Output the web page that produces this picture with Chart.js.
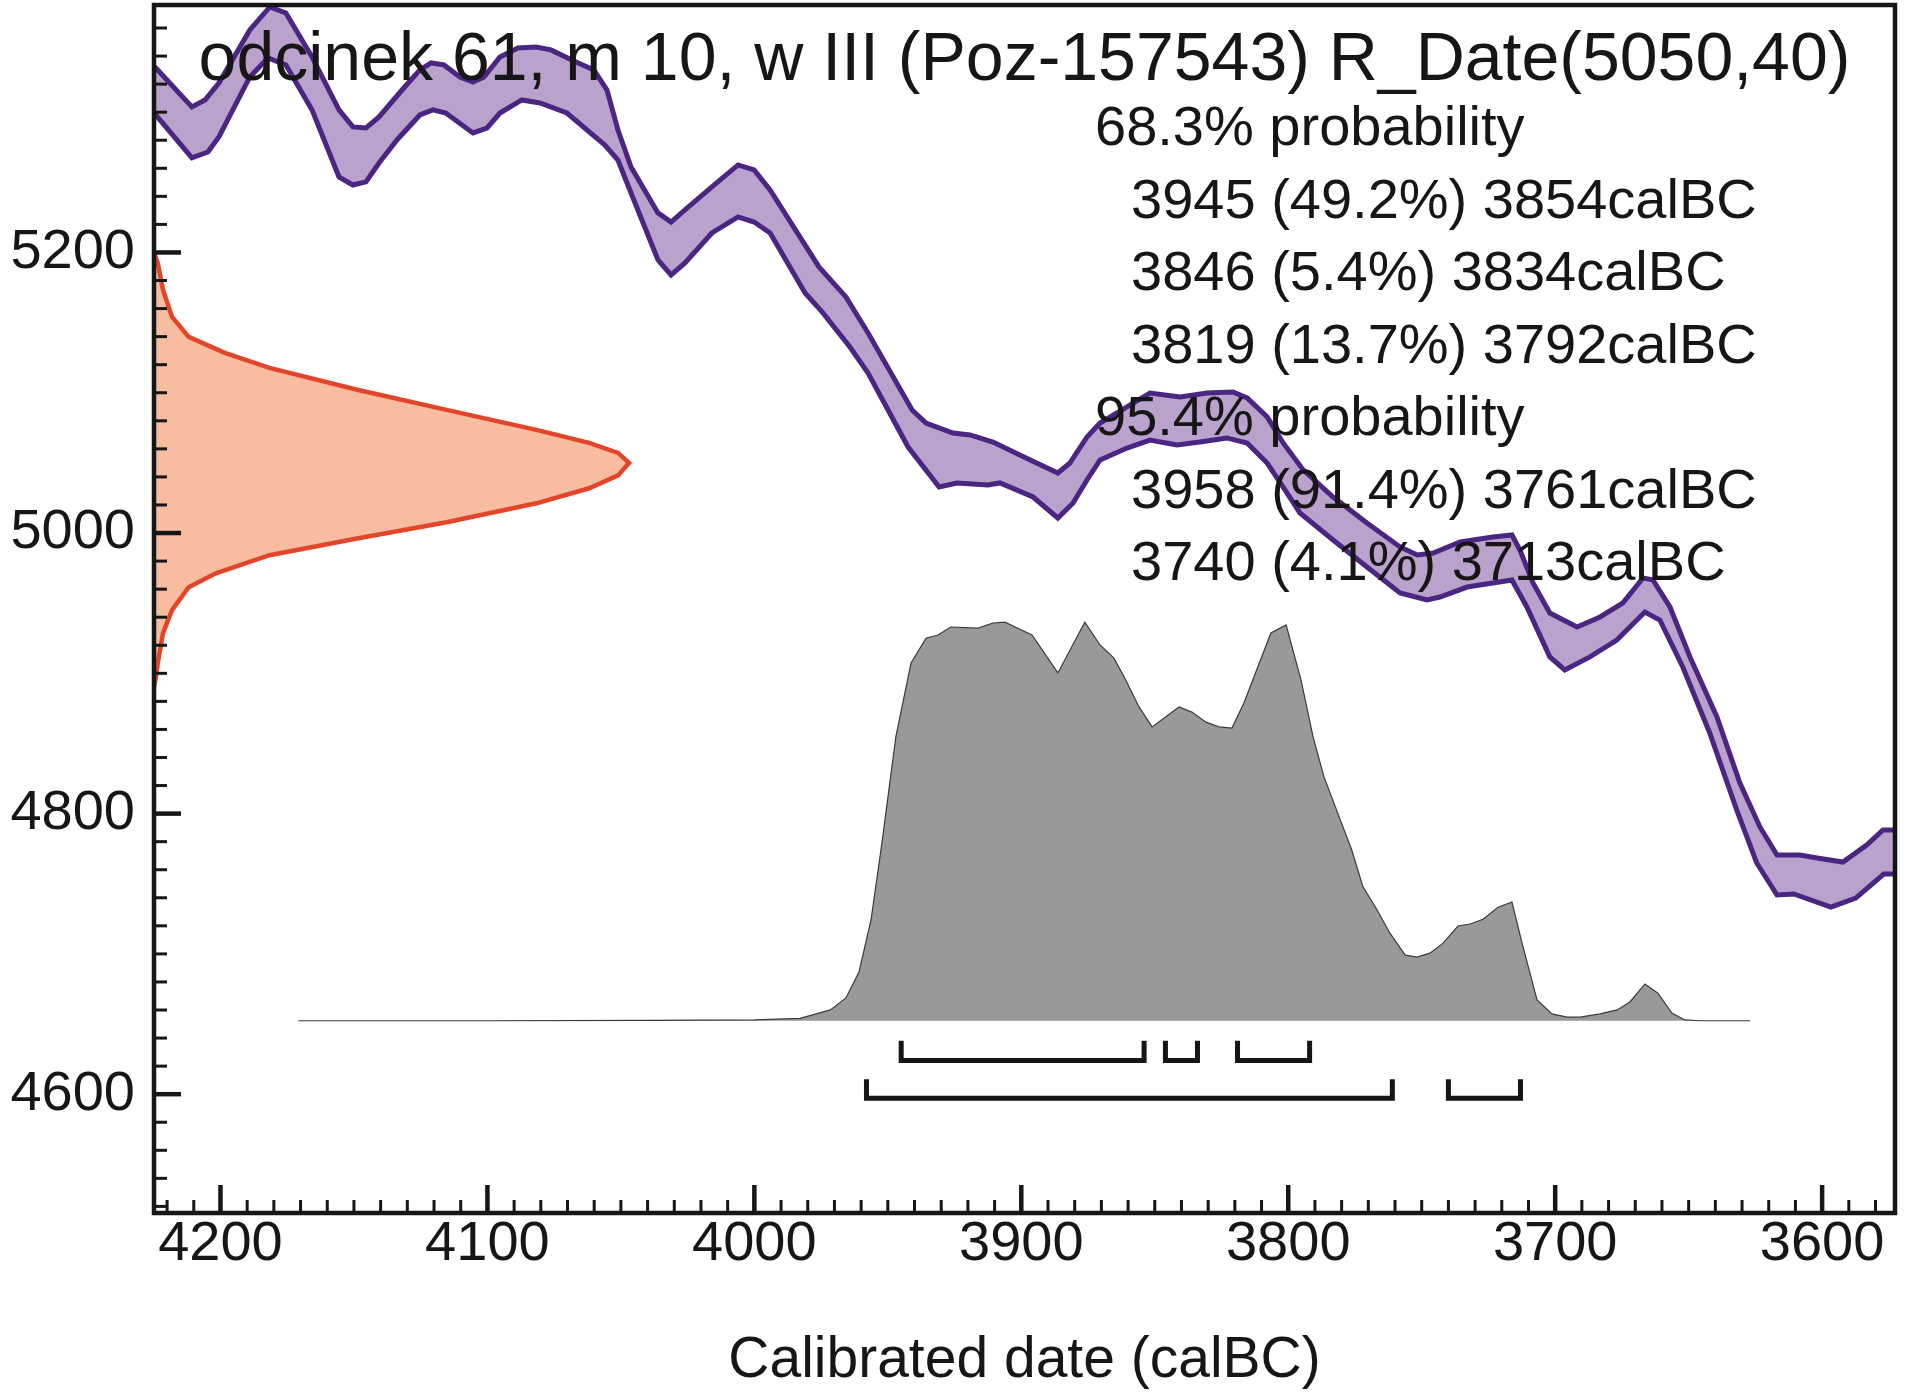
<!DOCTYPE html>
<html>
<head>
<meta charset="utf-8">
<title>R_Date(5050,40)</title>
<script src="https://cdn.jsdelivr.net/npm/chart.js@4.4.1/dist/chart.umd.min.js"></script>
<style>
  html, body { margin: 0; padding: 0; background: #fff; }
  canvas { display: block; }
</style>
</head>
<body>
<canvas id="calChart" width="1910" height="1393"></canvas>
<script>
// --- data ---
const titleText = "odcinek 61, m 10, w III (Poz-157543) R_Date(5050,40)";
const xAxisTitle = "Calibrated date (calBC)";

const xRange = [3572.7, 4224.9];   // calBC (axis runs right to left)
const yRange = [4515.3, 5376.4];   // radiocarbon BP
const xTickValues = [4200, 4100, 4000, 3900, 3800, 3700, 3600];
const yTickValues = [4600, 4800, 5000, 5200];

// calibration curve, upper and lower edge: [calBC, BP]
const calUpper = [
  [4227, 5337], [4224.2, 5331.5], [4210.7, 5303.7], [4205.8, 5308.7], [4200.6, 5320.8],
  [4189.0, 5358.6], [4181.5, 5375.0], [4175.5, 5370.7], [4165.7, 5339.4], [4155.6, 5301.6],
  [4150.4, 5289.5], [4145.5, 5288.7], [4140.6, 5296.6], [4132.0, 5315.8], [4125.3, 5330.1],
  [4121.1, 5335.1], [4116.3, 5333.7], [4110.3, 5325.1], [4105.4, 5321.5], [4101.3, 5325.1],
  [4095.3, 5339.4], [4088.6, 5345.8], [4081.8, 5346.5], [4076.2, 5344.4], [4066.8, 5335.8],
  [4060.1, 5330.1], [4055.2, 5315.8], [4051.1, 5287.3], [4046.2, 5260.9], [4036.1, 5228.2],
  [4031.2, 5221.7], [4026.0, 5230.3], [4015.9, 5246.7], [4006.1, 5262.4], [4000.1, 5258.8],
  [3994.1, 5244.6], [3975.8, 5189.7], [3965.7, 5168.3], [3957.4, 5142.6], [3940.9, 5087.7],
  [3935.7, 5078.4], [3925.6, 5071.3], [3919.2, 5069.9], [3910.6, 5064.9], [3899.0, 5054.2],
  [3886.3, 5042.8], [3881.8, 5049.9], [3875.4, 5068.5], [3870.5, 5078.4], [3860.4, 5089.9],
  [3851.8, 5099.8], [3840.5, 5097.0], [3830.4, 5099.8], [3820.7, 5100.6], [3815.4, 5096.3],
  [3807.9, 5082.8], [3801.9, 5064.2], [3794.4, 5045.0], [3783.2, 5025.7], [3770.5, 5007.2],
  [3758.1, 4990.1], [3751.7, 4984.4], [3745.7, 4985.8], [3735.6, 4993.6], [3723.3, 4997.2],
  [3716.2, 4998.6], [3713.2, 4987.9], [3708.3, 4964.4], [3702.0, 4943.0], [3691.8, 4933.0],
  [3683.2, 4940.2], [3674.6, 4950.2], [3667.1, 4968.0], [3663.4, 4966.6], [3657.0, 4947.3],
  [3649.5, 4911.7], [3639.4, 4868.9], [3630.8, 4821.8], [3623.3, 4790.5], [3616.9, 4770.5],
  [3608.3, 4770.5], [3601.9, 4768.4], [3592.2, 4765.5], [3583.2, 4777.7], [3577.2, 4788.4],
  [3572, 4788.4]
];
const calLower = [
  [4227, 5304], [4224.2, 5298.0], [4210.7, 5267.4], [4204.7, 5271.6], [4200.6, 5282.3],
  [4189.0, 5325.1], [4182.2, 5338.6], [4175.5, 5333.7], [4165.7, 5301.6], [4155.6, 5253.8],
  [4150.4, 5248.1], [4145.5, 5250.3], [4140.6, 5263.8], [4133.9, 5280.2], [4125.3, 5298.0],
  [4120.4, 5301.6], [4115.6, 5299.4], [4105.4, 5285.2], [4100.2, 5288.7], [4095.3, 5299.4],
  [4087.1, 5308.7], [4080.3, 5306.6], [4070.2, 5299.4], [4056.0, 5276.6], [4051.1, 5265.9],
  [4046.2, 5242.4], [4036.1, 5194.7], [4031.2, 5184.0], [4026.0, 5192.5], [4015.9, 5213.9],
  [4006.1, 5225.3], [4000.1, 5221.7], [3994.1, 5213.9], [3981.0, 5171.1], [3974.3, 5156.9],
  [3964.2, 5132.6], [3957.4, 5114.1], [3942.4, 5061.3], [3930.8, 5032.8], [3924.1, 5035.7],
  [3912.5, 5034.2], [3908.0, 5035.7], [3895.6, 5025.7], [3886.3, 5010.7], [3880.6, 5021.4],
  [3875.4, 5037.8], [3870.5, 5052.1], [3860.4, 5060.6], [3851.8, 5066.3], [3841.7, 5062.8],
  [3833.1, 5064.9], [3823.0, 5067.8], [3815.4, 5064.2], [3807.9, 5049.9], [3801.9, 5032.8],
  [3795.6, 5014.3], [3783.2, 4995.0], [3770.5, 4975.8], [3758.1, 4957.3], [3748.0, 4952.3],
  [3743.2, 4954.4], [3733.0, 4961.5], [3716.2, 4966.5], [3710.6, 4947.3], [3702.0, 4911.7],
  [3696.4, 4902.4], [3687.0, 4911.7], [3676.9, 4923.7], [3666.4, 4943.7], [3660.8, 4938.0],
  [3652.2, 4904.5], [3642.1, 4857.5], [3632.0, 4802.6], [3624.5, 4764.8], [3616.9, 4742.0],
  [3610.6, 4742.7], [3596.7, 4733.4], [3587.4, 4739.8], [3576.9, 4756.9], [3572, 4757.0]
];

// measured date on the BP axis: [BP, relative density]
const dateDensity = [
  [5200, 0], [5192.5, 0.008], [5173.3, 0.019], [5154.0, 0.038], [5139.8, 0.073],
  [5128.4, 0.149], [5117.7, 0.243], [5102.0, 0.430], [5087.8, 0.616], [5073.5, 0.805],
  [5064.3, 0.916], [5057.1, 0.977], [5050.0, 1.000], [5041.1, 0.977], [5031.9, 0.916],
  [5021.2, 0.805], [5007.7, 0.616], [4996.3, 0.430], [4984.2, 0.243], [4971.3, 0.130],
  [4961.4, 0.073], [4945.0, 0.038], [4928.6, 0.019], [4907.2, 0.008], [4897.3, 0.004],
  [4890, 0]
];

// calibrated distribution: [calBC, relative density]
const calDensity = [
  [4170.8, 0], [4100, 0], [4040, 0.001], [4000, 0.002], [3982.9, 0.006], [3971.5, 0.027],
  [3965.7, 0.057], [3960.8, 0.122], [3956.3, 0.252], [3952.2, 0.445], [3947.0, 0.710],
  [3941.3, 0.895], [3935.7, 0.957], [3931.2, 0.965], [3926.4, 0.985], [3916.2, 0.982],
  [3910.6, 0.995], [3906.1, 0.997], [3901.3, 0.982], [3896.0, 0.965], [3886.3, 0.870],
  [3876.2, 0.997], [3870.5, 0.940], [3865.3, 0.907], [3861.2, 0.857], [3855.9, 0.785],
  [3851.0, 0.735], [3840.9, 0.785], [3836.1, 0.772], [3830.8, 0.747], [3826.0, 0.735],
  [3821.1, 0.732], [3816.6, 0.795], [3806.5, 0.970], [3800.8, 0.990], [3795.2, 0.852],
  [3790.7, 0.710], [3786.6, 0.610], [3779.5, 0.485], [3776.2, 0.427], [3772.0, 0.335],
  [3766.7, 0.277], [3761.9, 0.219], [3756.2, 0.164], [3751.7, 0.159], [3746.9, 0.169],
  [3742.0, 0.194], [3736.4, 0.237], [3731.9, 0.242], [3727.0, 0.254], [3721.4, 0.284],
  [3716.2, 0.297], [3712.4, 0.194], [3706.8, 0.052], [3701.2, 0.017], [3695.5, 0.009],
  [3690.7, 0.009], [3683.2, 0.017], [3676.8, 0.027], [3672.0, 0.047], [3666.4, 0.092],
  [3661.5, 0.069], [3656.3, 0.019], [3651.4, 0.002], [3645.8, 0], [3627.0, 0]
];

// highest probability ranges
const range68From = [3945, 3846, 3819];
const range68To = [3854, 3834, 3792];
const range68Pct = ["49.2", "5.4", "13.7"];
const range95From = [3958, 3740];
const range95To = [3761, 3713];
const range95Pct = ["91.4", "4.1"];

// --- chart ---
const FONT = '"Liberation Sans", Arial, Helvetica, sans-serif';
const INK = "#161616";

const bandPolygon = calUpper.concat(calLower.slice().reverse()).map(([x, y]) => ({ x, y }));

function bracket(from, to, top, bottom) {
  return {
    data: [{ x: from, y: top }, { x: from, y: bottom }, { x: to, y: bottom }, { x: to, y: top }],
    xAxisID: "x", yAxisID: "yp",
    borderColor: INK, borderWidth: 5, fill: false,
    borderJoinStyle: "miter", borderCapStyle: "butt"
  };
}

const datasets = [];
range68From.forEach((f, i) => datasets.push(bracket(f, range68To[i], -0.050, -0.0997)));
range95From.forEach((f, i) => datasets.push(bracket(f, range95To[i], -0.1466, -0.194)));

datasets.push({
  data: calUpper.map(([x, y]) => ({ x, y })),
  xAxisID: "x", yAxisID: "y",
  borderColor: "#4a2582", borderWidth: 5, fill: false
});
datasets.push({
  data: calLower.map(([x, y]) => ({ x, y })),
  xAxisID: "x", yAxisID: "y",
  borderColor: "#4a2582", borderWidth: 5, fill: false
});
datasets.push({
  data: bandPolygon,
  xAxisID: "x", yAxisID: "y",
  borderWidth: 0, borderColor: "rgba(0,0,0,0)",
  backgroundColor: "#b9a3cc", fill: "shape"
});
datasets.push({
  data: dateDensity.map(([bp, d]) => ({ x: d, y: bp })),
  xAxisID: "xd", yAxisID: "y",
  borderColor: "#e2462a", borderWidth: 4.5,
  backgroundColor: "#f8bca0", fill: "shape"
});
datasets.push({
  data: calDensity.map(([x, d]) => ({ x, y: d })),
  xAxisID: "x", yAxisID: "yp",
  borderColor: "#3a3a3a", borderWidth: 1.2,
  backgroundColor: "#999999", fill: "origin"
});

const overlayPlugin = {
  id: "oxcalOverlay",
  afterDatasetsDraw(chart) {
    const { ctx, chartArea: a, scales } = chart;
    const x = scales.x, y = scales.y;
    ctx.save();
    ctx.strokeStyle = INK;
    ctx.lineCap = "butt";

    // y ticks (inside), minor every 20
    for (let v = Math.ceil(y.min / 20) * 20; v <= y.max; v += 20) {
      const p = y.getPixelForValue(v);
      const major = v % 200 === 0;
      ctx.lineWidth = major ? 4.5 : 3;
      ctx.beginPath();
      ctx.moveTo(a.left, p);
      ctx.lineTo(a.left + (major ? 27 : 13), p);
      ctx.stroke();
    }
    // x ticks (inside), minor every 10
    for (let v = Math.ceil(x.min / 10) * 10; v <= x.max; v += 10) {
      const p = x.getPixelForValue(v);
      const major = v % 100 === 0;
      ctx.lineWidth = major ? 4.5 : 3;
      ctx.beginPath();
      ctx.moveTo(p, a.bottom);
      ctx.lineTo(p, a.bottom - (major ? 28 : 13));
      ctx.stroke();
    }

    // frame
    ctx.lineWidth = 4.5;
    ctx.strokeRect(a.left, a.top, a.right - a.left, a.bottom - a.top);

    // title
    ctx.fillStyle = INK;
    ctx.textBaseline = "alphabetic";
    ctx.textAlign = "center";
    ctx.font = "68px " + FONT;
    ctx.fillText(titleText, (a.left + a.right) / 2, 80);

    // probability ranges
    const lines = [["68.3% probability", false]];
    range68From.forEach((f, i) => lines.push([`${f} (${range68Pct[i]}%) ${range68To[i]}calBC`, true]));
    lines.push(["95.4% probability", false]);
    range95From.forEach((f, i) => lines.push([`${f} (${range95Pct[i]}%) ${range95To[i]}calBC`, true]));
    ctx.textAlign = "left";
    ctx.font = "56px " + FONT;
    lines.forEach(([txt, indent], i) => {
      ctx.fillText(txt, indent ? 1131 : 1095, 145 + i * 72.5);
    });
    ctx.restore();
  }
};

new Chart(document.getElementById("calChart").getContext("2d"), {
  type: "line",
  data: { datasets },
  options: {
    responsive: false,
    animation: false,
    devicePixelRatio: 1,
    layout: { padding: { top: 5, right: 15, left: 0, bottom: 0 } },
    elements: { point: { radius: 0, hoverRadius: 0 }, line: { tension: 0 } },
    plugins: { legend: { display: false }, tooltip: { enabled: false }, title: { display: false } },
    scales: {
      x: {
        type: "linear", position: "bottom", reverse: true,
        min: xRange[0], max: xRange[1],
        afterFit: s => { s.height = 180; s.paddingLeft = 0; s.paddingRight = 0; },
        afterBuildTicks: s => { s.ticks = xTickValues.map(v => ({ value: v })); },
        grid: { display: false, drawTicks: false },
        border: { display: false },
        ticks: {
          autoSkip: false, maxRotation: 0, padding: 4, color: INK,
          font: { family: FONT, size: 56, lineHeight: 1 },
          callback: v => String(v)
        },
        title: {
          display: true, text: xAxisTitle, color: INK,
          font: { family: FONT, size: 57, lineHeight: 1 },
          padding: { top: 0, bottom: 3 }
        }
      },
      y: {
        type: "linear", position: "left",
        min: yRange[0], max: yRange[1],
        afterFit: s => { s.width = 154; s.paddingTop = 0; s.paddingBottom = 0; },
        afterBuildTicks: s => { s.ticks = yTickValues.map(v => ({ value: v })); },
        grid: { display: false, drawTicks: false },
        border: { display: false },
        ticks: {
          autoSkip: false, padding: 19, color: INK,
          font: { family: FONT, size: 56, lineHeight: 1 },
          callback: v => String(v)
        }
      },
      xd: { type: "linear", axis: "x", position: "bottom", display: false, min: 0, max: 3.665 },
      yp: { type: "linear", axis: "y", position: "left", display: false, min: -0.481, max: 2.541 }
    }
  },
  plugins: [overlayPlugin]
});
</script>
</body>
</html>
